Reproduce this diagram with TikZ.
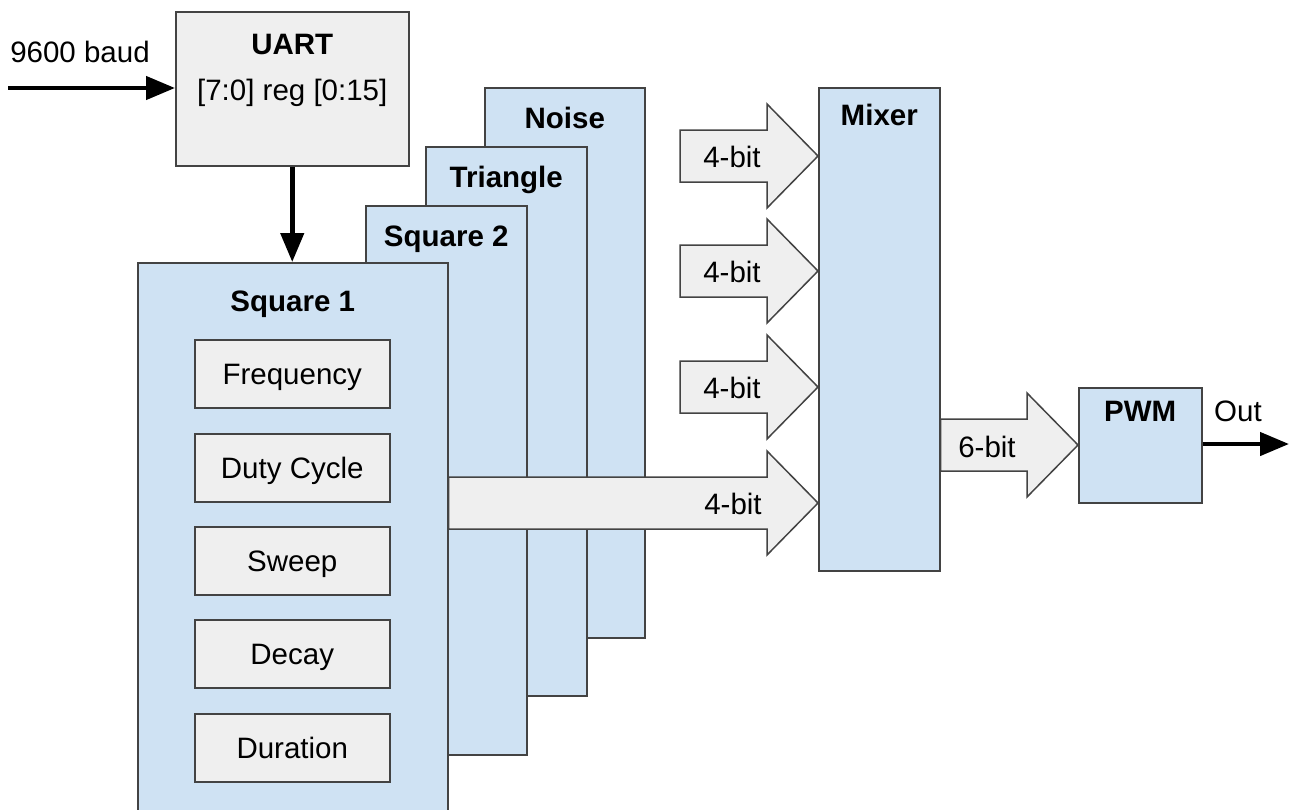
\documentclass[tikz,border=0pt]{standalone}
\usepackage{fontspec}
\setmainfont{Liberation Sans}
\usetikzlibrary{arrows.meta,calc}
\definecolor{bluef}{HTML}{CFE2F3}
\definecolor{grayf}{HTML}{EFEFEF}
\definecolor{edgec}{HTML}{434343}
\tikzset{
 box/.style={draw=edgec, line width=1.5pt, rectangle, inner sep=0pt, anchor=north west,
   font=\fontsize{29.5}{35}\selectfont, text height=21pt, text depth=0pt},
 bluebox/.style={box, fill=bluef},
 graybox/.style={box, fill=grayf},
 ttl/.style={font=\fontsize{29.5}{35}\selectfont\bfseries, inner sep=0pt, text height=21pt, text depth=0pt, anchor=center},
 txt/.style={font=\fontsize{29.5}{35}\selectfont, inner sep=0pt, text height=21pt, text depth=0pt, anchor=center},
 wire/.style={line width=4.5pt, -{Triangle[length=29pt,width=23pt]}},
 fat/.style={draw=edgec, line width=1.5pt, fill=grayf, line join=miter},
}
\newcommand\fatarrow[2]{%
 \draw[fat] let \p1=(#1), \p2=(#2) in
  (\x1,\y2+26pt) -- (\x2-51pt,\y2+26pt) -- (\x2-51pt,\y2+52pt) -- (\x2,\y2)
  -- (\x2-51pt,\y2-52pt) -- (\x2-51pt,\y2-26pt) -- (\x1,\y2-26pt) -- cycle;}
\begin{document}
\begin{tikzpicture}[x=1pt,y=-1pt]
\useasboundingbox (0,0) rectangle (1289,809);

% stacked channel boxes
\node[bluebox, minimum width=160pt, minimum height=550pt] (noise) at (484,87) {};
\node[ttl] (noiset) at ([yshift=-31pt]noise.north) {Noise};
\node[bluebox, minimum width=161pt, minimum height=549pt] (tri) at (425,146) {};
\node[ttl] (trit) at ([yshift=-31pt]tri.north) {Triangle};
\node[bluebox, minimum width=161pt, minimum height=549pt] (sq2) at (365,205) {};
\node[ttl] (sq2t) at ([yshift=-31pt]sq2.north) {Square 2};
\node[bluebox, minimum width=310pt, minimum height=570pt] (sq1) at (137,262) {};
\node[ttl] (sq1t) at ([yshift=-39pt]sq1.north) {Square 1};

% inner registers
\node[graybox, minimum width=195pt, minimum height=68pt] (freq) at (194,339) {Frequency};
\node[graybox, minimum width=195pt, minimum height=68pt] (duty) at (194,433) {Duty Cycle};
\node[graybox, minimum width=195pt, minimum height=68pt] (sweep) at (194,526) {Sweep};
\node[graybox, minimum width=195pt, minimum height=68pt] (decay) at (194,619) {Decay};
\node[graybox, minimum width=195pt, minimum height=68pt] (dur) at (194,713) {Duration};

% UART
\node[graybox, minimum width=233pt, minimum height=154pt] (uart) at (175,11) {};
\node[ttl] (uartt) at ([yshift=-33pt]uart.north) {UART};
\node[txt] (uartr) at ([yshift=-79pt]uart.north) {[7:0] reg [0:15]};

% Mixer and PWM
\node[bluebox, minimum width=121pt, minimum height=483pt] (mix) at (818,87) {};
\node[ttl] (mixt) at ([yshift=-28pt]mix.north) {Mixer};
\node[bluebox, minimum width=123pt, minimum height=115pt] (pwm) at (1078,387) {};
\node[ttl] (pwmt) at ([yshift=-24pt]pwm.north) {PWM};

% block arrows
\coordinate (r1) at (680,156);
\coordinate (r2) at (680,271);
\coordinate (r3) at (680,387);
\coordinate (r4) at (0,503);
\coordinate (r6) at (0,445);
\fatarrow{r1}{mix.west |- r1}
\fatarrow{r2}{mix.west |- r2}
\fatarrow{r3}{mix.west |- r3}
\fatarrow{sq1.east |- r4}{mix.west |- r4}
\fatarrow{mix.east |- r6}{pwm.west |- r6}
\node[txt] (l1) at (732,157) {4-bit};
\node[txt] (l2) at (732,272) {4-bit};
\node[txt] (l3) at (732,388) {4-bit};
\node[txt] (l4) at (733,504) {4-bit};
\node[txt] (l6) at (987,447) {6-bit};

% black wires
\coordinate (in) at (8,88);
\node[txt] (baud) at (80,52) {9600 baud};
\draw[wire] (in) -- (uart.west |- in);
\draw[wire] (uart.south) -- (uart.south |- sq1.north);
\coordinate (out) at (1289,444);
\draw[wire] (pwm.east |- out) -- (out);
\node[txt] (outl) at (1238,411) {Out};
\end{tikzpicture}
\end{document}
